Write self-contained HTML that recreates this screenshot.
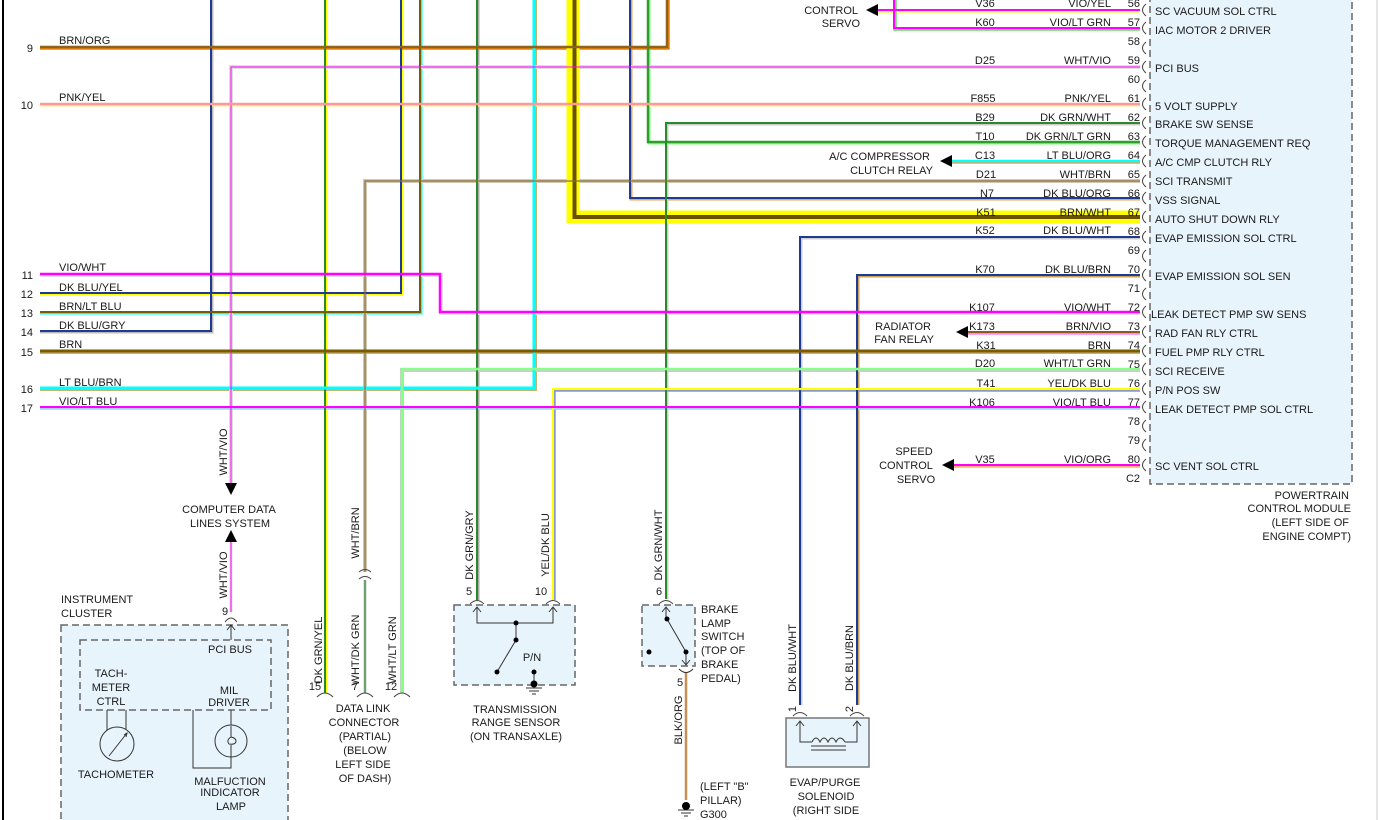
<!DOCTYPE html>
<html><head><meta charset="utf-8"><style>
html,body{margin:0;padding:0;background:#fff}
svg{display:block}
text{font-family:"Liberation Sans",Arial,sans-serif;font-size:11px;fill:#1a1a1a}
.r{text-anchor:end}.m{text-anchor:middle}
</style></head><body>
<svg width="1379" height="820" viewBox="0 0 1379 820" xmlns="http://www.w3.org/2000/svg">
<rect width="1379" height="820" fill="#fff"/>
<line x1="3" y1="0" x2="3" y2="820" stroke="#000" stroke-width="2"/>
<line x1="1377" y1="0" x2="1377" y2="820" stroke="#ccc" stroke-width="1"/>

<!-- PCM box -->
<rect x="1150" y="-5" width="202" height="489" fill="#e8f4fc" stroke="#666" stroke-width="1.5" stroke-dasharray="7,4"/>

<g fill="none" stroke-linejoin="miter">
<!-- tracers (under) -->
<polyline points="212,0 212,332 40,332" stroke="#bbb" stroke-width="3"/>
<polyline points="326,0 326,693" stroke="#ffff00" stroke-width="3"/>
<polyline points="402,0 402,294 40,294" stroke="#ffff00" stroke-width="3"/>
<polyline points="421,0 421,313 40,313" stroke="#00ffff" stroke-width="3"/>
<polyline points="478,0 478,600" stroke="#aaa" stroke-width="3"/>
<polyline points="535,0 535,389 40,389" stroke="#c8b070" stroke-width="4"/>
<polyline points="631,0 631,199 1140,199" stroke="#f0a050" stroke-width="3"/>
<polyline points="649,0 649,143 1140,143" stroke="#80ff80" stroke-width="3"/>
<polyline points="668,0 668,48 40,48" stroke="#f08000" stroke-width="3.5"/>
<polyline points="667,599 667,124 1140,124" stroke="#ccc" stroke-width="3"/>
<polyline points="878,11 1140,11" stroke="#ffff00" stroke-width="3"/>
<polyline points="895,0 895,29 1140,29" stroke="#60e060" stroke-width="3.5"/>
<polyline points="1140,67 231,67 231,483" stroke="#ddd" stroke-width="4"/>
<polyline points="231,542 231,612" stroke="#ddd" stroke-width="3"/>
<polyline points="40,105 1140,105" stroke="#ffee88" stroke-width="3"/>
<polyline points="952,162 1140,162" stroke="#f0a050" stroke-width="3.5"/>
<polyline points="1140,181 365,181 365,572" stroke="#d0c8b0" stroke-width="4"/>
<polyline points="365,580 365,693" stroke="#ccc" stroke-width="3"/>
<polyline points="801,705 801,238 1140,238" stroke="#ccc" stroke-width="3"/>
<polyline points="858,705 858,276 1140,276" stroke="#c8a060" stroke-width="3"/>
<polyline points="40,275 441,275 441,313 1140,313" stroke="#ddd" stroke-width="4"/>
<polyline points="968,333 1140,333" stroke="#ff80ff" stroke-width="3.5"/>
<polyline points="40,352 1140,352" stroke="#c8b070" stroke-width="4"/>
<polyline points="1140,370 402,370 402,693" stroke="#ccc" stroke-width="4"/>
<polyline points="1140,390 554,390 554,600" stroke="#8899cc" stroke-width="3.5"/>
<polyline points="40,408 1140,408" stroke="#aaccff" stroke-width="3.5"/>
<polyline points="954,466 1140,466" stroke="#ffb070" stroke-width="3.5"/>
<!-- mains -->
<polyline points="211,0 211,331 40,331" stroke="#1f3a93" stroke-width="2"/>
<polyline points="325,0 325,693" stroke="#2a8a2a" stroke-width="2"/>
<polyline points="401,0 401,293 40,293" stroke="#1f3a93" stroke-width="2"/>
<polyline points="420,0 420,312 40,312" stroke="#7a5c00" stroke-width="2"/>
<polyline points="477,0 477,600" stroke="#2a8a2a" stroke-width="2"/>
<polyline points="534,0 534,388 40,388" stroke="#00ffff" stroke-width="3"/>
<polyline points="573,0 573,217 1140,217" stroke="#ffff00" stroke-width="13"/>
<polyline points="574.5,0 574.5,217 1140,217" stroke="#6b5000" stroke-width="4"/>
<polyline points="630,0 630,198 1140,198" stroke="#1f3a93" stroke-width="2"/>
<polyline points="648,0 648,142 1140,142" stroke="#2aa02a" stroke-width="2.5"/>
<polyline points="667,0 667,47 40,47" stroke="#8a6420" stroke-width="2.5"/>
<polyline points="666,599 666,123 1140,123" stroke="#2a8a2a" stroke-width="2"/>
<polyline points="878,10 1140,10" stroke="#ff00ff" stroke-width="2"/>
<polyline points="894,0 894,28 1140,28" stroke="#ff00ff" stroke-width="2"/>
<polyline points="1140,67 231,67 231,483" stroke="#ff00ff" stroke-width="1"/>
<polyline points="231,542 231,612" stroke="#ff00ff" stroke-width="1"/>
<polyline points="40,104 1140,104" stroke="#ff9999" stroke-width="2.5"/>
<polyline points="952,161 1140,161" stroke="#00ffff" stroke-width="2.5"/>
<polyline points="1140,181 365,181 365,572" stroke="#8a6d3b" stroke-width="1.2"/>
<polyline points="365,580 365,693" stroke="#2a8a2a" stroke-width="1.2"/>
<polyline points="800,705 800,237 1140,237" stroke="#1f3a93" stroke-width="2"/>
<polyline points="857,705 857,275 1140,275" stroke="#1f3a93" stroke-width="2"/>
<polyline points="40,274 440,274 440,312 1140,312" stroke="#ff00ff" stroke-width="2.5"/>
<polyline points="968,332 1140,332" stroke="#8a5a20" stroke-width="2"/>
<polyline points="40,351 1140,351" stroke="#7a5c00" stroke-width="3"/>
<polyline points="1140,369 402,369 402,693" stroke="#88ff88" stroke-width="2.5"/>
<polyline points="1140,389 553,389 553,600" stroke="#ffff00" stroke-width="2"/>
<polyline points="40,407 1140,407" stroke="#ff00ff" stroke-width="2"/>
<polyline points="954,465 1140,465" stroke="#ff00ff" stroke-width="2"/>
<polyline points="686,672 686,800" stroke="#c89050" stroke-width="2.5"/>
</g>

<!-- arrows -->
<g fill="#000">
<polygon points="866,10 878,4 878,16"/>
<polygon points="940,161 952,155 952,167"/>
<polygon points="956,332 968,326 968,338"/>
<polygon points="942,465 954,459 954,471"/>
<polygon points="231,495 225,483 237,483"/>
<polygon points="231,530 225,542 237,542"/>
</g>

<!-- PCM connector arcs -->
<g fill="none" stroke="#444" stroke-width="1">
<path d="M1146,4 Q1139,10 1146,16"/><path d="M1146,22 Q1139,28 1146,34"/><path d="M1146,42 Q1139,48 1146,54"/>
<path d="M1146,61 Q1139,67 1146,73"/><path d="M1146,80 Q1139,86 1146,92"/><path d="M1146,98 Q1139,104 1146,110"/>
<path d="M1146,117 Q1139,123 1146,129"/><path d="M1146,136 Q1139,142 1146,148"/><path d="M1146,155 Q1139,161 1146,167"/>
<path d="M1146,175 Q1139,181 1146,187"/><path d="M1146,192 Q1139,198 1146,204"/><path d="M1146,211 Q1139,217 1146,223"/>
<path d="M1146,231 Q1139,237 1146,243"/><path d="M1146,250 Q1139,256 1146,262"/><path d="M1146,269 Q1139,275 1146,281"/>
<path d="M1146,288 Q1139,294 1146,300"/><path d="M1146,306 Q1139,312 1146,318"/><path d="M1146,326 Q1139,332 1146,338"/>
<path d="M1146,345 Q1139,351 1146,357"/><path d="M1146,363 Q1139,369 1146,375"/><path d="M1146,383 Q1139,389 1146,395"/>
<path d="M1146,401 Q1139,407 1146,413"/><path d="M1146,420 Q1139,426 1146,432"/><path d="M1146,439 Q1139,445 1146,451"/>
<path d="M1146,459 Q1139,465 1146,471"/>
</g>

<!-- pin numbers -->
<g class="r">
<text x="1140" y="7" class="r">56</text><text x="1140" y="26" class="r">57</text><text x="1140" y="45" class="r">58</text>
<text x="1140" y="64" class="r">59</text><text x="1140" y="83" class="r">60</text><text x="1140" y="102" class="r">61</text>
<text x="1140" y="121" class="r">62</text><text x="1140" y="140" class="r">63</text><text x="1140" y="159" class="r">64</text>
<text x="1140" y="178" class="r">65</text><text x="1140" y="197" class="r">66</text><text x="1140" y="216" class="r">67</text>
<text x="1140" y="235" class="r">68</text><text x="1140" y="254" class="r">69</text><text x="1140" y="273" class="r">70</text>
<text x="1140" y="292" class="r">71</text><text x="1140" y="311" class="r">72</text><text x="1140" y="330" class="r">73</text>
<text x="1140" y="349" class="r">74</text><text x="1140" y="368" class="r">75</text><text x="1140" y="387" class="r">76</text>
<text x="1140" y="406" class="r">77</text><text x="1140" y="425" class="r">78</text><text x="1140" y="444" class="r">79</text>
<text x="1140" y="463" class="r">80</text><text x="1140" y="482" class="r">C2</text>
</g>
<!-- codes -->
<g>
<text x="985" y="7" class="m">V36</text><text x="985" y="26" class="m">K60</text><text x="985" y="64" class="m">D25</text>
<text x="983" y="102" class="m">F855</text><text x="985" y="121" class="m">B29</text><text x="985" y="140" class="m">T10</text>
<text x="985" y="159" class="m">C13</text><text x="986" y="178" class="m">D21</text><text x="987" y="197" class="m">N7</text>
<text x="986" y="216" class="m">K51</text><text x="985" y="234" class="m">K52</text><text x="985" y="273" class="m">K70</text>
<text x="982" y="311" class="m">K107</text><text x="982" y="330" class="m">K173</text><text x="986" y="349" class="m">K31</text>
<text x="985" y="367" class="m">D20</text><text x="986" y="387" class="m">T41</text><text x="982" y="406" class="m">K106</text>
<text x="985" y="463" class="m">V35</text>
</g>
<!-- color names -->
<g>
<text x="1111" y="7" class="r">VIO/YEL</text><text x="1111" y="26" class="r">VIO/LT GRN</text><text x="1111" y="64" class="r">WHT/VIO</text>
<text x="1111" y="102" class="r">PNK/YEL</text><text x="1111" y="121" class="r">DK GRN/WHT</text><text x="1111" y="140" class="r">DK GRN/LT GRN</text>
<text x="1111" y="159" class="r">LT BLU/ORG</text><text x="1111" y="178" class="r">WHT/BRN</text><text x="1111" y="197" class="r">DK BLU/ORG</text>
<text x="1111" y="216" class="r">BRN/WHT</text><text x="1111" y="234" class="r">DK BLU/WHT</text><text x="1111" y="273" class="r">DK BLU/BRN</text>
<text x="1111" y="311" class="r">VIO/WHT</text><text x="1111" y="330" class="r">BRN/VIO</text><text x="1111" y="349" class="r">BRN</text>
<text x="1111" y="367" class="r">WHT/LT GRN</text><text x="1111" y="387" class="r">YEL/DK BLU</text><text x="1111" y="406" class="r">VIO/LT BLU</text>
<text x="1111" y="463" class="r">VIO/ORG</text>
</g>
<!-- PCM labels -->
<g>
<text x="1155" y="15">SC VACUUM SOL CTRL</text><text x="1155" y="34">IAC MOTOR 2 DRIVER</text><text x="1155" y="72">PCI BUS</text>
<text x="1155" y="110">5 VOLT SUPPLY</text><text x="1155" y="128">BRAKE SW SENSE</text><text x="1155" y="147">TORQUE MANAGEMENT REQ</text>
<text x="1155" y="166">A/C CMP CLUTCH RLY</text><text x="1155" y="185">SCI TRANSMIT</text><text x="1155" y="204">VSS SIGNAL</text>
<text x="1155" y="223">AUTO SHUT DOWN RLY</text><text x="1155" y="242">EVAP EMISSION SOL CTRL</text><text x="1155" y="280">EVAP EMISSION SOL SEN</text>
<text x="1151" y="318">LEAK DETECT PMP SW SENS</text><text x="1155" y="337">RAD FAN RLY CTRL</text><text x="1155" y="356">FUEL PMP RLY CTRL</text>
<text x="1155" y="375">SCI RECEIVE</text><text x="1155" y="394">P/N POS SW</text><text x="1155" y="413">LEAK DETECT PMP SOL CTRL</text>
<text x="1155" y="470">SC VENT SOL CTRL</text>
<text x="1349" y="499" class="r">POWERTRAIN</text><text x="1351" y="512" class="r">CONTROL MODULE</text>
<text x="1349" y="526" class="r">(LEFT SIDE OF</text><text x="1351" y="540" class="r">ENGINE COMPT)</text>
</g>
<!-- side device labels -->
<g>
<text x="858" y="14" class="r">CONTROL</text><text x="860" y="27" class="r">SERVO</text>
<text x="930" y="160" class="r">A/C COMPRESSOR</text><text x="933" y="174" class="r">CLUTCH RELAY</text>
<text x="931" y="330" class="r">RADIATOR</text><text x="934" y="343" class="r">FAN RELAY</text>
<text x="914" y="455" class="m">SPEED</text><text x="906" y="469" class="m">CONTROL</text><text x="916" y="483" class="m">SERVO</text>
</g>
<!-- left wire labels -->
<g>
<text x="33" y="52" class="r">9</text><text x="33" y="109" class="r">10</text><text x="33" y="279" class="r">11</text>
<text x="33" y="298" class="r">12</text><text x="33" y="317" class="r">13</text><text x="33" y="336" class="r">14</text>
<text x="33" y="356" class="r">15</text><text x="33" y="393" class="r">16</text><text x="33" y="412" class="r">17</text>
<text x="59" y="44">BRN/ORG</text><text x="59" y="101">PNK/YEL</text><text x="59" y="271">VIO/WHT</text>
<text x="59" y="291">DK BLU/YEL</text><text x="59" y="310">BRN/LT BLU</text><text x="59" y="329">DK BLU/GRY</text>
<text x="59" y="348">BRN</text><text x="59" y="386">LT BLU/BRN</text><text x="59" y="405">VIO/LT BLU</text>
</g>

<!-- computer data lines -->
<text x="229" y="513" class="m">COMPUTER DATA</text><text x="230" y="527" class="m">LINES SYSTEM</text>
<text transform="translate(227,452) rotate(-90)" class="m">WHT/VIO</text>
<text transform="translate(227,575) rotate(-90)" class="m">WHT/VIO</text>
<text x="222" y="615">9</text>
<path d="M225,622 Q231,614 237,622" fill="none" stroke="#444"/>

<!-- instrument cluster -->
<text x="61" y="603">INSTRUMENT</text><text x="61" y="617">CLUSTER</text>
<rect x="61" y="625" width="227" height="200" fill="#e8f4fc" stroke="#666" stroke-width="1.5" stroke-dasharray="7,4"/>
<rect x="80" y="640" width="191" height="70" fill="none" stroke="#666" stroke-width="1.5" stroke-dasharray="7,4"/>
<path d="M231,625 V640 M227,630 L231,625 L235,630" fill="none" stroke="#333"/>
<text x="230" y="653" class="m">PCI BUS</text>
<text x="111" y="677" class="m">TACH-</text><text x="111" y="691" class="m">METER</text><text x="111" y="705" class="m">CTRL</text>
<text x="229" y="694" class="m">MIL</text><text x="229" y="706" class="m">DRIVER</text>
<g fill="none" stroke="#333" stroke-width="1">
<path d="M107,710 V730 M126,710 V730"/>
<circle cx="117" cy="744" r="17" fill="#e8f4fc"/>
<path d="M109,756 L127,733 M124,735 L127,733 L126,737"/>
<path d="M231,710 V726 M193,710 V768 H231 V757"/>
<circle cx="231" cy="741" r="16" fill="#e8f4fc"/>
<path d="M231,726 V737 Q236,738 236,741 Q236,745 229,744 Q226,740 231,737 M231,745 V757"/>
</g>
<text x="116" y="778" class="m">TACHOMETER</text>
<text x="230" y="785" class="m">MALFUCTION</text><text x="230" y="796" class="m">INDICATOR</text><text x="231" y="810" class="m">LAMP</text>

<!-- data link connector -->
<text transform="translate(322,650) rotate(-90)" class="m">DK GRN/YEL</text>
<text transform="translate(359,650) rotate(-90)" class="m">WHT/DK GRN</text>
<text transform="translate(396,650) rotate(-90)" class="m">WHT/LT GRN</text>
<text transform="translate(359,533) rotate(-90)" class="m">WHT/BRN</text>
<path d="M359,572 Q365,567 371,572 M359,579 Q365,574 371,579" fill="none" stroke="#444"/>
<text x="315" y="690" class="m">15</text><text x="355" y="690" class="m">7</text><text x="391" y="690" class="m">12</text>
<path d="M317,697 Q325,689 333,697 M357,697 Q365,689 373,697 M394,697 Q402,689 410,697" fill="none" stroke="#444"/>
<g class="m">
<text x="363" y="712" class="m">DATA LINK</text><text x="364" y="726" class="m">CONNECTOR</text><text x="365" y="740" class="m">(PARTIAL)</text>
<text x="365" y="754" class="m">(BELOW</text><text x="363" y="768" class="m">LEFT SIDE</text><text x="365" y="782" class="m">OF DASH)</text>
</g>

<!-- transmission range sensor -->
<text transform="translate(473,545) rotate(-90)" class="m">DK GRN/GRY</text>
<text transform="translate(549,545) rotate(-90)" class="m">YEL/DK BLU</text>
<text x="469" y="595" class="m">5</text><text x="541" y="595" class="m">10</text>
<path d="M470,604 Q477,597 484,604 M546,604 Q553,597 560,604" fill="none" stroke="#444"/>
<rect x="454" y="605" width="121" height="80" fill="#e8f4fc" stroke="#666" stroke-width="1.5" stroke-dasharray="7,4"/>
<g fill="none" stroke="#333">
<path d="M477,607 V623 H553 V607 M473,612 L477,607 L481,612 M549,612 L553,607 L557,612"/>
<path d="M516,623 V640 L497,672"/>
<path d="M534,672 V685 M526,688 H542 M529,691 H539 M532,694 H536"/>
</g>
<g fill="#000"><circle cx="516" cy="623" r="2.5"/><circle cx="516" cy="640" r="2.5"/><circle cx="497" cy="672" r="2.5"/><circle cx="534" cy="672" r="2.5"/><circle cx="534" cy="684" r="3.5"/></g>
<text x="532" y="661" class="m">P/N</text>
<text x="515" y="713" class="m">TRANSMISSION</text><text x="516" y="726" class="m">RANGE SENSOR</text><text x="516" y="740" class="m">(ON TRANSAXLE)</text>

<!-- brake lamp switch -->
<text transform="translate(662,545) rotate(-90)" class="m">DK GRN/WHT</text>
<text x="659" y="595" class="m">6</text>
<path d="M659,604 Q666,597 673,604" fill="none" stroke="#444"/>
<rect x="642" y="605" width="53" height="61" fill="#e8f4fc" stroke="#666" stroke-width="1.5" stroke-dasharray="7,4"/>
<g fill="none" stroke="#333">
<path d="M666,607 V619 M662,612 L666,607 L670,612"/>
<path d="M667,619 L686,652 V665 M682,660 L686,665 L690,660"/>
<path d="M679,669 Q686,676 693,669"/>
</g>
<g fill="#000"><circle cx="667" cy="619" r="2.5"/><circle cx="686" cy="652" r="2.5"/><circle cx="649" cy="652" r="2.5"/></g>
<text x="680" y="686" class="m">5</text>
<text transform="translate(682,720) rotate(-90)" class="m">BLK/ORG</text>
<g fill="none" stroke="#333"><path d="M678,810 H694 M681,813 H691 M684,816 H688"/></g>
<circle cx="686" cy="806" r="4" fill="#000"/>
<g>
<text x="701" y="613">BRAKE</text><text x="701" y="627">LAMP</text><text x="701" y="640">SWITCH</text>
<text x="701" y="654">(TOP OF</text><text x="701" y="668">BRAKE</text><text x="701" y="682">PEDAL)</text>
<text x="700" y="790">(LEFT "B"</text><text x="700" y="804">PILLAR)</text><text x="700" y="818">G300</text>
</g>

<!-- evap solenoid -->
<text transform="translate(796,658) rotate(-90)" class="m">DK BLU/WHT</text>
<text transform="translate(853,658) rotate(-90)" class="m">DK BLU/BRN</text>
<text transform="translate(796,709) rotate(-90)" class="m">1</text>
<text transform="translate(853,709) rotate(-90)" class="m">2</text>
<path d="M793,716 Q800,709 807,716 M850,716 Q857,709 864,716" fill="none" stroke="#444"/>
<rect x="786" y="718" width="83" height="49" fill="#e8f4fc" stroke="#777" stroke-width="1.5"/>
<g fill="none" stroke="#333">
<path d="M800,721 V742 H812 M796,726 L800,721 L804,726 M857,721 V742 H845 M853,726 L857,721 L861,726"/>
<path d="M812,742 Q816,734 820,742 Q824,734 828,742 Q832,734 836,742 Q840,734 845,742"/>
<path d="M811,746 H846 M811,750 H846"/>
</g>
<text x="825" y="786" class="m">EVAP/PURGE</text><text x="826" y="800" class="m">SOLENOID</text><text x="826" y="814" class="m">(RIGHT SIDE</text>
</svg>
</body></html>
